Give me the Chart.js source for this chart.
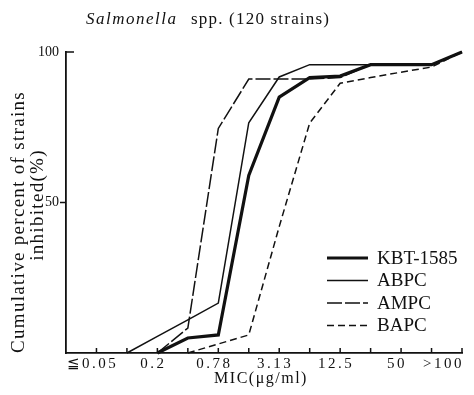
<!DOCTYPE html>
<html>
<head>
<meta charset="utf-8">
<script src="https://cdn.jsdelivr.net/npm/chart.js@4.4.0/dist/chart.umd.min.js"></script>
<style>
  html, body { margin: 0; padding: 0; background: #fff; }
</style>
</head>
<body>
<canvas id="mic_chart" width="474" height="395"></canvas>
<script>
// MIC steps (µg/ml), one slot per doubling dilution
const micLabels = ["≦0.05", "0.1", "0.2", "0.39", "0.78", "1.56", "3.13", "6.25", "12.5", "25", "50", "100", ">100"];

// cumulative % of strains inhibited at each step (null = curve not started yet)
const kbt  = [null, null, 0, 5, 6, 59, 85, 91.5, 92, 95.8, 95.8, 95.8, 100];
const abpc = [null, 0, 5.5, 11, 16.6, 76.5, 91.7, 95.8, 95.8, 95.8, 95.8, 95.8, 100];
const ampc = [null, null, 0, 8.3, 74.6, 91, 91, 91, 91.5, 95.8, 95.8, 95.8, 100];
const bapc = [null, null, null, 0, 3, 6, 42, 76.4, 89.6, 91.5, 93.3, 95, 100];

const yTicks = [50, 100];
const ink = "#111";

function toPoints(values) {
  return values.map((v, i) => ({ x: i, y: v }));
}

function line(label, values, width, dash) {
  return {
    label: label,
    data: toPoints(values),
    borderColor: ink,
    borderWidth: width,
    borderDash: dash,
    pointRadius: 0,
    tension: 0,
    fill: false,
    clip: 6
  };
}

// axis ticks, labels, titles and legend in the old print style
const paperStyle = {
  id: "paperStyle",
  afterDraw(chart) {
    const ctx = chart.ctx;
    const xs = chart.scales.x, ys = chart.scales.y;
    const area = chart.chartArea;
    ctx.save();
    ctx.fillStyle = ink;
    ctx.strokeStyle = ink;

    // tick marks: x ticks point into the plot
    ctx.lineWidth = 1.5;
    ctx.beginPath();
    micLabels.forEach((m, i) => {
      const px = xs.getPixelForValue(i);
      ctx.moveTo(px, area.bottom);
      ctx.lineTo(px, area.bottom - 5);
    });
    const y50 = ys.getPixelForValue(50), y100 = ys.getPixelForValue(100);
    ctx.moveTo(area.left - 6, y50);
    ctx.lineTo(area.left, y50);
    ctx.moveTo(area.left, y100);
    ctx.lineTo(area.left + 8, y100);
    ctx.stroke();

    // x tick labels, every other step
    ctx.font = "15px 'Liberation Serif'";
    ctx.letterSpacing = "2.5px";
    ctx.textBaseline = "top";
    micLabels.forEach((m, i) => {
      if (i % 2) return;
      const px = xs.getPixelForValue(i);
      if (i === micLabels.length - 1) {
        ctx.textAlign = "right";
        ctx.fillText(m, px + 2, area.bottom + 4);
      } else {
        ctx.textAlign = "center";
        ctx.fillText(m, px - 4, area.bottom + 4);
      }
    });

    // y tick labels
    ctx.letterSpacing = "0px";
    ctx.font = "14px 'Liberation Serif'";
    ctx.textAlign = "right";
    ctx.textBaseline = "middle";
    yTicks.forEach(v => ctx.fillText(String(v), area.left - 7, ys.getPixelForValue(v)));

    // x axis title
    ctx.font = "16px 'Liberation Serif'";
    ctx.letterSpacing = "1.5px";
    ctx.textAlign = "center";
    ctx.textBaseline = "alphabetic";
    ctx.fillText("MIC(μg/ml)", 261, 383);

    // y axis title, two rotated lines
    ctx.font = "19px 'Liberation Serif'";
    ctx.letterSpacing = "1.3px";
    ctx.textBaseline = "middle";
    ctx.save();
    ctx.translate(19, 222);
    ctx.rotate(-Math.PI / 2);
    ctx.fillText("Cumulative percent of strains", 0, 0);
    ctx.restore();
    ctx.save();
    ctx.translate(38, 205);
    ctx.rotate(-Math.PI / 2);
    ctx.fillText("inhibited(%)", 0, 0);
    ctx.restore();

    // chart title with italic genus name
    ctx.textAlign = "left";
    ctx.textBaseline = "alphabetic";
    ctx.font = "italic 17px 'Liberation Serif'";
    ctx.letterSpacing = "1.5px";
    ctx.fillText("Salmonella", 86, 24);
    ctx.font = "17px 'Liberation Serif'";
    ctx.letterSpacing = "1.2px";
    ctx.fillText("spp. (120 strains)", 191, 24);

    // legend inside the plot, bottom right
    ctx.letterSpacing = "0px";
    ctx.font = "19px 'Liberation Serif'";
    ctx.textBaseline = "middle";
    chart.data.datasets.forEach((ds, k) => {
      const ly = 258 + k * 22.5;
      ctx.lineWidth = ds.borderWidth;
      ctx.setLineDash(ds.borderDash || []);
      ctx.beginPath();
      ctx.moveTo(327, ly);
      ctx.lineTo(368, ly);
      ctx.stroke();
      ctx.setLineDash([]);
      ctx.fillText(ds.label, 377, ly + 1);
    });
    ctx.restore();
  }
};

new Chart("mic_chart", {
  type: "line",
  data: {
    datasets: [
      line("KBT-1585", kbt, 3.2, []),
      line("ABPC", abpc, 1.5, []),
      line("AMPC", ampc, 1.5, [15, 3]),
      line("BAPC", bapc, 1.5, [7, 4])
    ]
  },
  options: {
    responsive: false,
    animation: false,
    layout: { padding: { left: 66, right: 12, top: 52, bottom: 42 } },
    plugins: {
      legend: { display: false },
      title: { display: false },
      tooltip: { enabled: false }
    },
    scales: {
      x: {
        type: "linear",
        min: -1,
        max: 12,
        grid: { display: false, drawTicks: false },
        ticks: { display: false },
        border: { display: true, color: ink, width: 1.8 }
      },
      y: {
        min: 0,
        max: 100,
        grid: { display: false, drawTicks: false },
        ticks: { display: false },
        border: { display: true, color: ink, width: 1.8 }
      }
    }
  },
  plugins: [paperStyle]
});
</script>
</body>
</html>
